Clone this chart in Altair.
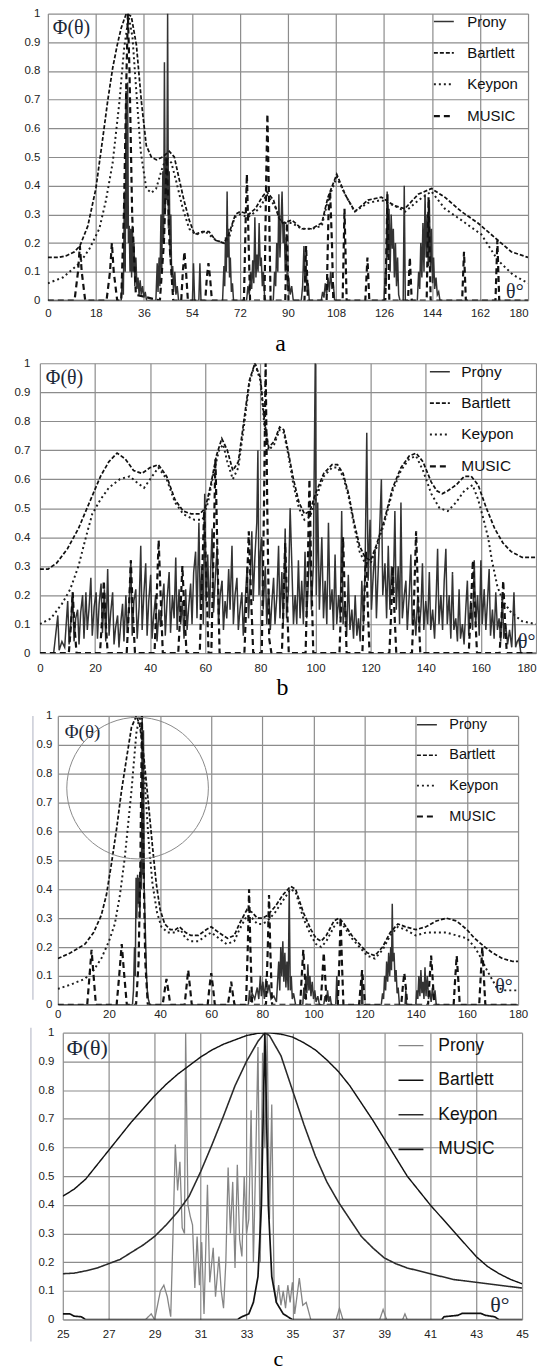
import altair as alt
import pandas as pd

SERIES = ["Prony", "Bartlett", "Keypon", "MUSIC"]

# ---------------- panel a (theta 0..180) ----------------
A_PRONY = [(0, 0), (27.5, 0), (28, 0.09), (28.3, 0.02), (28.7, 0.38), (29, 0.1), (29.3, 0.73), (29.6, 0.25),
           (29.9, 0.76), (30.2, 0.2), (30.5, 0.26), (30.8, 0.1), (31.1, 0.25), (31.4, 0.08), (31.7, 0.26),
           (32, 0.1), (32.3, 0.2), (32.6, 0.05), (33, 0.15), (33.4, 0.04), (33.8, 0.08), (34.2, 0.02),
           (34.6, 0.07), (35, 0.02), (35.5, 0.05), (36, 0.01), (36.5, 0.03), (37, 0),
           (40.5, 0), (41, 0.13), (41.3, 0.03), (41.7, 0.15), (42, 0.05), (42.4, 0.3), (42.7, 0.1),
           (43.1, 0.45), (43.4, 0.2), (43.7, 0.83), (44, 0.3), (44.3, 0.5), (44.6, 0.35), (44.9, 1.0),
           (45.2, 0.25), (45.5, 0.45), (45.8, 0.15), (46.1, 0.3), (46.4, 0.08), (46.8, 0.12), (47.1, 0.03),
           (47.6, 0.1), (48, 0.02), (48.5, 0.05), (49, 0),
           (54.2, 0), (54.6, 0.13), (55, 0), (56.6, 0), (57, 0.13), (57.4, 0),
           (65.5, 0), (66, 0.12), (66.3, 0.05), (66.6, 0.22), (66.9, 0.1), (67.2, 0.38), (67.5, 0.15),
           (67.8, 0.25), (68.1, 0.08), (68.4, 0.15), (68.8, 0.03), (69.2, 0.06), (69.6, 0),
           (74.5, 0), (75, 0.05), (75.5, 0.02), (76, 0.1), (76.4, 0.04), (76.8, 0.14), (77.2, 0.06),
           (77.6, 0.29), (78, 0.08), (78.4, 0.16), (78.8, 0.1), (79.2, 0.27), (79.6, 0.12), (80, 0.15),
           (80.4, 0.05), (80.8, 0.1), (81.2, 0.02), (81.6, 0),
           (84.5, 0), (85, 0.1), (85.4, 0.05), (85.8, 0.2), (86.2, 0.1), (86.6, 0.37), (87, 0.15),
           (87.4, 0.27), (87.8, 0.38), (88.2, 0.2), (88.6, 0.27), (89, 0.1), (89.4, 0.22), (89.8, 0.05),
           (90.3, 0.08), (90.8, 0.02), (91.4, 0.05), (92, 0),
           (95, 0), (95.5, 0.05), (96, 0.19), (96.4, 0.06), (96.8, 0.12), (97.2, 0.03), (97.6, 0.06), (98, 0),
           (102.5, 0), (103, 0.03), (103.5, 0.01), (104, 0.06), (104.5, 0.02), (105, 0.08), (105.5, 0.03),
           (106, 0.1), (106.5, 0.04), (107, 0.06), (107.5, 0),
           (126, 0), (126.5, 0.1), (126.8, 0.05), (127.2, 0.38), (127.5, 0.15), (127.9, 0.32), (128.3, 0.1),
           (128.7, 0.3), (129.1, 0.18), (129.5, 0.25), (129.9, 0.08), (130.3, 0.2), (130.7, 0.05),
           (131.1, 0.15), (131.5, 0.02), (132, 0), (133.2, 0), (133.6, 0.4), (134, 0),
           (138.5, 0), (139, 0.1), (139.4, 0.04), (139.8, 0.2), (140.2, 0.08), (140.6, 0.27), (141, 0.1),
           (141.4, 0.37), (141.8, 0.15), (142.2, 0.3), (142.6, 0.12), (143, 0.35), (143.4, 0.1),
           (143.8, 0.25), (144.2, 0.06), (144.6, 0.15), (145, 0.04), (145.5, 0.08), (146, 0.02),
           (146.5, 0.03), (147, 0), (180, 0)]
A_BARTLETT = [(0, 0.15), (4, 0.15), (7, 0.156), (10, 0.17), (12, 0.19), (15, 0.26), (18, 0.39), (20.5, 0.56),
              (22.5, 0.7), (24.3, 0.81), (26, 0.89), (27.5, 0.95), (29.4, 1.0), (31.3, 0.99), (33.2, 0.89),
              (35.1, 0.69), (36.9, 0.54), (38.8, 0.5), (40.7, 0.49), (43, 0.5), (45.5, 0.52), (47.4, 0.5),
              (49.3, 0.42), (51, 0.35), (53, 0.28), (55, 0.23), (58, 0.24), (60.4, 0.24), (62.9, 0.21),
              (66, 0.2), (67.8, 0.23), (70.3, 0.3), (72.2, 0.31), (75.3, 0.3), (77.8, 0.32), (80.3, 0.36),
              (82, 0.38), (84.6, 0.35), (86.5, 0.29), (88, 0.27), (91.5, 0.28), (95.2, 0.25), (98.9, 0.25),
              (102.7, 0.27), (105, 0.36), (108.3, 0.44), (111.4, 0.37), (115.1, 0.31), (120, 0.35),
              (125, 0.36), (130, 0.33), (133.8, 0.32), (138.8, 0.37), (143.8, 0.39), (148.8, 0.36),
              (155, 0.31), (161.2, 0.27), (168.7, 0.21), (173.7, 0.17), (180, 0.15)]
A_KEYPON = [(0, 0.06), (5.6, 0.08), (11.9, 0.13), (15.6, 0.18), (19.3, 0.25), (21.8, 0.35), (24.3, 0.48),
            (26.8, 0.69), (28.6, 0.88), (30.3, 0.99), (31.7, 0.92), (33, 0.75), (34.8, 0.52), (36.9, 0.39),
            (38.8, 0.375), (40.6, 0.39), (42.5, 0.45), (44.4, 0.5), (46.3, 0.48), (48, 0.42), (50.6, 0.32),
            (53, 0.25), (55.5, 0.23), (59, 0.24), (63, 0.21), (66, 0.2), (68, 0.22), (70, 0.29), (72, 0.3),
            (75, 0.29), (78, 0.31), (80, 0.33), (82, 0.37), (85, 0.33), (88, 0.27), (91.5, 0.27),
            (95, 0.25), (99, 0.25), (102.7, 0.26), (105, 0.35), (108.3, 0.43), (111.4, 0.37), (115, 0.31),
            (120, 0.34), (125, 0.35), (130, 0.33), (134, 0.31), (139, 0.35), (143.8, 0.38), (148.8, 0.32),
            (155, 0.28), (162.5, 0.23), (168.7, 0.14), (174.3, 0.09), (180, 0.06)]
A_MUSIC = [(0, 0), (10, 0), (11.3, 0.1), (12, 0.19), (12.7, 0.1), (14, 0), (22, 0), (23.3, 0.1), (24, 0.2),
           (24.7, 0.1), (26, 0), (27.5, 0), (28.5, 0.3), (29.5, 0.8), (30, 1.0), (30.6, 0.8), (31.6, 0.3),
           (33, 0.02), (42, 0), (43.5, 0.2), (44.6, 0.5), (45.6, 0.2), (47, 0), (50, 0), (50.6, 0.1),
           (51.2, 0.17), (51.8, 0.1), (52.5, 0), (59, 0), (59.6, 0.08), (60.2, 0.13), (60.8, 0.08),
           (61.5, 0), (73.5, 0), (74.2, 0.3), (74.6, 0.44), (75, 0.3), (75.8, 0), (81.2, 0), (81.8, 0.4),
           (82.3, 0.65), (82.8, 0.4), (83.5, 0), (89, 0), (89.6, 0.27), (90.2, 0), (96.2, 0), (96.8, 0.19),
           (97.5, 0), (104.5, 0), (105.2, 0.3), (105.8, 0.38), (106.5, 0.2), (107, 0), (110.5, 0),
           (111.2, 0.32), (112, 0), (119, 0), (119.8, 0.15), (120.5, 0), (126.5, 0), (127.3, 0.37),
           (128, 0), (135, 0), (135.7, 0.15), (136.4, 0), (142, 0), (142.7, 0.36), (143.5, 0),
           (155.3, 0), (156, 0.17), (156.7, 0), (167.8, 0), (168.5, 0.21), (169.2, 0), (180, 0)]

# ---------------- panel b (theta 0..180) ----------------
B_PRONY = [(5, 0), (6.5, 0.13), (7, 0.01), (8, 0.04), (9, 0.02), (10.1, 0.18), (10.6, 0.03), (11.2, 0.1),
           (11.9, 0.21), (12.4, 0.04), (13, 0.12), (13.7, 0.15), (14.2, 0.03), (14.8, 0.14), (15.5, 0.2),
           (16, 0.05), (16.7, 0.21), (17.2, 0.08), (17.8, 0.15), (18.5, 0.26), (19, 0.06), (19.7, 0.16),
           (20.4, 0.21), (20.9, 0.05), (21.5, 0.17), (22.2, 0.24), (22.7, 0.07), (23.4, 0.22), (23.9, 0.04),
           (24.6, 0.29), (25.1, 0.06), (25.7, 0.14), (26.4, 0.21), (26.9, 0.03), (27.5, 0.09), (28.2, 0.13),
           (28.7, 0.02), (29.4, 0.11), (30, 0.17), (30.5, 0.04), (31.2, 0.2), (31.7, 0.07), (32.3, 0.15),
           (33, 0.32), (33.5, 0.06), (34.1, 0.18), (34.8, 0.22), (35.3, 0.05), (36, 0.16), (36.6, 0.37),
           (37.1, 0.08), (37.7, 0.2), (38.4, 0.31), (38.9, 0.06), (39.5, 0.18), (40.2, 0.27), (40.7, 0.05),
           (41.3, 0.13), (42, 0.2), (42.5, 0.04), (43.2, 0.15), (43.8, 0.09), (44.4, 0.18), (45, 0.24),
           (45.5, 0.06), (46.2, 0.19), (46.9, 0.28), (47.4, 0.07), (48.1, 0.2), (48.7, 0.12), (49.3, 0.33),
           (49.8, 0.08), (50.5, 0.22), (51.1, 0.1), (51.7, 0.18), (52.3, 0.05), (52.9, 0.22), (53.4, 0.08),
           (54, 0.16), (54.7, 0.24), (55.2, 0.1), (55.8, 0.28), (56.5, 0.35), (57, 0.12), (57.7, 0.45),
           (58.2, 0.15), (58.8, 0.3), (59.3, 0.1), (59.8, 0.55), (60.3, 0.18), (60.9, 0.34), (61.5, 0.12),
           (62, 0.3), (62.5, 0.43), (63, 0.14), (63.6, 0.25), (64.3, 0.37), (64.8, 0.1), (65.4, 0.2),
           (66.1, 0.25), (66.6, 0.08), (67.2, 0.18), (67.8, 0.12), (68.5, 0.29), (69, 0.15), (69.7, 0.37),
           (70.2, 0.1), (70.8, 0.2), (71.5, 0.26), (72, 0.08), (72.6, 0.15), (73.3, 0.21), (73.8, 0.06),
           (74.5, 0.18), (75.2, 0.3), (75.7, 0.12), (76.3, 0.25), (76.9, 0.42), (77.4, 0.18), (78, 0.33),
           (78.7, 0.45), (79.1, 0.7), (79.5, 0.2), (80, 0.35), (80.5, 0.4), (81, 0.15), (81.8, 0.3),
           (82.3, 0.1), (83, 0.22), (83.6, 0.08), (84.2, 0.18), (84.8, 0.26), (85.3, 0.1), (86, 0.2),
           (86.6, 0.37), (87.1, 0.12), (87.8, 0.28), (88.3, 0.1), (89, 0.43), (89.5, 0.12), (90.2, 0.22),
           (90.8, 0.5), (91.4, 0.31), (92, 0.1), (92.6, 0.2), (93.2, 0.1), (93.8, 0.32), (94.4, 0.12),
           (95, 0.25), (95.6, 0.1), (96.2, 0.35), (96.8, 0.12), (97.4, 0.25), (98, 0.41), (98.5, 0.15),
           (99.2, 0.3), (99.9, 1.0), (100.3, 0.2), (100.8, 0.52), (101.4, 0.15), (102.3, 0.4), (102.9, 0.12),
           (103.5, 0.25), (104.1, 0.1), (104.7, 0.45), (105.3, 0.15), (106, 0.22), (106.5, 0.08),
           (107.1, 0.34), (107.7, 0.1), (108.4, 0.2), (109, 0.12), (109.5, 0.49), (110, 0.1), (110.7, 0.18),
           (111.3, 0.06), (111.9, 0.27), (112.5, 0.08), (113.2, 0.15), (113.8, 0.05), (114.4, 0.2),
           (115, 0.06), (115.6, 0.12), (116.2, 0.04), (116.8, 0.25), (117.4, 0.1), (118, 0.3), (118.6, 0.76),
           (119.1, 0.25), (119.8, 0.46), (120.3, 0.15), (121, 0.28), (121.6, 0.36), (122.1, 0.12),
           (122.8, 0.3), (123.4, 0.46), (123.9, 0.6), (124.4, 0.2), (125.2, 0.31), (125.8, 0.12),
           (126.4, 0.37), (127, 0.15), (127.6, 0.3), (128.2, 0.2), (128.8, 0.49), (129.3, 0.15), (130, 0.3),
           (130.5, 0.1), (131, 0.52), (131.5, 0.12), (132.2, 0.2), (132.8, 0.25), (133.3, 0.08), (134, 0.2),
           (134.6, 0.34), (135.1, 0.1), (135.8, 0.15), (136.4, 0.06), (137.1, 0.2), (137.7, 0.08),
           (138.3, 0.16), (138.8, 0.31), (139.3, 0.08), (140, 0.18), (140.7, 0.1), (141.3, 0.28),
           (141.8, 0.08), (142.5, 0.15), (143.2, 0.05), (143.8, 0.2), (144.3, 0.36), (144.8, 0.1),
           (145.5, 0.2), (146.1, 0.08), (146.7, 0.25), (147.3, 0.36), (147.8, 0.1), (148.5, 0.2),
           (149.1, 0.05), (149.7, 0.28), (150.2, 0.08), (150.9, 0.12), (151.5, 0.04), (152.1, 0.22),
           (152.6, 0.05), (153.3, 0.1), (153.9, 0.03), (154.5, 0.15), (155.1, 0.25), (155.6, 0.06),
           (156.3, 0.18), (157, 0.08), (157.6, 0.32), (158.1, 0.1), (158.8, 0.2), (159.4, 0.06), (160, 0.32),
           (160.5, 0.1), (161.2, 0.22), (161.8, 0.08), (162.4, 0.18), (163, 0.29), (163.5, 0.06),
           (164.2, 0.15), (164.8, 0.05), (165.4, 0.21), (166, 0.08), (166.6, 0.12), (167.2, 0.04),
           (167.8, 0.2), (168.3, 0.05), (169, 0.1), (169.7, 0.03), (170.4, 0.08), (171.2, 0.02), (172, 0.21),
           (172.6, 0.02), (173.2, 0.04), (173.8, 0.05), (174.5, 0), (180, 0)]
B_BARTLETT = [(0, 0.29), (3, 0.29), (6, 0.31), (10, 0.36), (14, 0.43), (18, 0.52), (22, 0.61), (25, 0.66),
              (28, 0.69), (31, 0.67), (34, 0.63), (37, 0.62), (40, 0.64), (43, 0.65), (46, 0.61), (49, 0.53),
              (52, 0.49), (55, 0.48), (58, 0.48), (60, 0.5), (62, 0.58), (64, 0.68), (66, 0.74), (68, 0.7),
              (70, 0.63), (72, 0.66), (74, 0.8), (76, 0.94), (78, 1.0), (80, 0.95), (81.5, 0.8), (83, 0.71),
              (85, 0.73), (87, 0.78), (88.5, 0.77), (90, 0.7), (92, 0.6), (94, 0.52), (96, 0.48), (98, 0.49),
              (100, 0.55), (103, 0.62), (106, 0.65), (108, 0.65), (110, 0.62), (112, 0.55), (114, 0.45),
              (116, 0.37), (118, 0.33), (120, 0.32), (122, 0.37), (125, 0.46), (128, 0.57), (131, 0.64),
              (134, 0.68), (136.5, 0.69), (139, 0.66), (142, 0.59), (144, 0.56), (146, 0.55), (148, 0.56),
              (151, 0.58), (154, 0.61), (156.5, 0.61), (159, 0.58), (162, 0.5), (165, 0.43), (168, 0.38),
              (171, 0.35), (175, 0.33), (180, 0.33)]
B_KEYPON = [(0, 0.1), (4, 0.12), (8, 0.17), (11, 0.22), (14, 0.3), (16.7, 0.4), (19, 0.48), (22, 0.53),
            (25, 0.57), (29, 0.6), (32.6, 0.61), (35, 0.59), (37.8, 0.57), (40, 0.6), (43, 0.64), (46, 0.6),
            (49, 0.52), (52, 0.48), (56, 0.46), (59, 0.46), (61, 0.52), (63, 0.62), (65, 0.7), (66.5, 0.72),
            (68, 0.66), (70, 0.6), (72, 0.64), (74, 0.78), (76, 0.93), (78, 1.0), (80, 0.94), (81.5, 0.78),
            (83, 0.7), (85, 0.72), (87, 0.77), (88.5, 0.76), (90, 0.69), (92, 0.58), (94, 0.5), (96, 0.46),
            (98, 0.47), (100, 0.53), (103, 0.61), (106, 0.64), (108, 0.64), (110, 0.61), (112, 0.54),
            (114, 0.44), (116, 0.35), (118, 0.31), (120, 0.31), (122, 0.36), (125, 0.45), (128, 0.56),
            (131, 0.63), (134, 0.67), (136.5, 0.68), (139, 0.63), (142, 0.55), (145, 0.5), (148, 0.49),
            (151, 0.52), (154, 0.56), (157, 0.58), (159, 0.53), (161, 0.46), (162.6, 0.4), (164, 0.32),
            (166, 0.23), (168, 0.18), (171, 0.14), (175, 0.11), (180, 0.1)]
B_MUSIC = [(0, 0), (10.5, 0), (11.3, 0.1), (11.9, 0.21), (12.5, 0.1), (13.3, 0), (21.8, 0), (22.6, 0.12),
           (23.2, 0.25), (23.8, 0.12), (24.6, 0), (31.5, 0), (32.3, 0.15), (33, 0.32), (33.7, 0.15),
           (34.5, 0), (41.6, 0), (42.4, 0.2), (43.1, 0.39), (43.8, 0.2), (44.6, 0), (50.2, 0), (51, 0.15),
           (51.7, 0.3), (52.4, 0.15), (53.2, 0), (58, 0), (58.8, 0.25), (59.6, 0.49), (60.4, 0.25),
           (61.2, 0), (62.2, 0), (63, 0.35), (63.7, 0.67), (64.4, 0.35), (65.2, 0), (74.2, 0), (75, 0.2),
           (75.8, 0.42), (76.6, 0.2), (77.4, 0), (80.5, 0), (81.3, 0.5), (81.9, 1.0), (82.5, 0.5),
           (83.2, 0.05), (84, 0), (87.8, 0), (88.5, 0.2), (89, 0.38), (89.6, 0.2), (90.3, 0), (96.4, 0),
           (97.2, 0.3), (97.8, 0.6), (98.4, 0.3), (99.2, 0), (108.7, 0), (109.4, 0.2), (110, 0.4),
           (110.6, 0.2), (111.3, 0), (117, 0), (117.7, 0.18), (118.3, 0.35), (118.9, 0.18), (119.6, 0),
           (126.8, 0), (127.5, 0.15), (128, 0.3), (128.6, 0.15), (129.3, 0), (135, 0), (135.8, 0.2),
           (136.5, 0.42), (137.2, 0.2), (138, 0), (155.6, 0), (156.4, 0.16), (157.1, 0.32), (157.8, 0.16),
           (158.6, 0), (166.8, 0), (167.5, 0.12), (168.1, 0.25), (168.7, 0.12), (169.4, 0), (180, 0)]

# ---------------- panel c (theta 0..180) ----------------
C_PRONY = [(0, 0), (29.2, 0), (29.6, 0.05), (30, 0.2), (30.3, 0.1), (30.6, 0.44), (30.9, 0.3), (31.2, 0.45),
           (31.5, 0.35), (31.8, 0.44), (32.1, 0.3), (32.4, 0.5), (32.7, 0.4), (33, 1.0), (33.2, 0.45),
           (33.5, 0.95), (33.8, 0.4), (34.1, 0.3), (34.4, 0.2), (34.7, 0.1), (35, 0.05), (35.4, 0.02),
           (36, 0), (74.5, 0), (75, 0.05), (75.4, 0.01), (76, 0.04), (77, 0.02), (78, 0.06), (78.6, 0.02),
           (79.2, 0.1), (79.6, 0.03), (80.2, 0.08), (80.8, 0.02), (81.4, 0.09), (82, 0.04), (82.6, 0.07),
           (83.4, 0.02), (84.5, 0.03), (85.5, 0.01), (86.4, 0.15), (86.8, 0.05), (87.2, 0.2), (87.6, 0.1),
           (88, 0.22), (88.4, 0.08), (88.8, 0.18), (89.2, 0.06), (89.6, 0.15), (90.1, 0.05), (90.5, 0.4),
           (90.9, 0.05), (91.3, 0.1), (91.7, 0.02), (92.2, 0.04), (93, 0), (95.8, 0), (96.2, 0.06),
           (96.6, 0.02), (97, 0.1), (97.4, 0.04), (97.8, 0.14), (98.2, 0.05), (98.6, 0.1), (99, 0.03),
           (99.5, 0.08), (100, 0.02), (100.5, 0.05), (101, 0.01), (101.7, 0.03), (102.3, 0), (104, 0),
           (104.5, 0.03), (105, 0.01), (105.5, 0.05), (106, 0.01), (106.5, 0.03), (107, 0), (108.7, 0),
           (109.1, 0.1), (109.5, 0), (118.7, 0), (119, 0.11), (119.3, 0), (126.5, 0), (127, 0.04),
           (127.4, 0.02), (127.8, 0.1), (128.2, 0.05), (128.6, 0.15), (129, 0.08), (129.4, 0.18),
           (129.8, 0.1), (130.2, 0.2), (130.5, 0.12), (130.8, 0.35), (131.1, 0.15), (131.5, 0.18),
           (131.9, 0.08), (132.3, 0.12), (132.7, 0.04), (133.1, 0.06), (133.6, 0), (135.8, 0), (136.1, 0.05),
           (136.4, 0), (140, 0), (140.4, 0.05), (140.8, 0.02), (141.2, 0.1), (141.6, 0.03), (142, 0.12),
           (142.4, 0.04), (142.8, 0.08), (143.2, 0.02), (143.6, 0.13), (144, 0.03), (144.5, 0.1),
           (145, 0.02), (145.5, 0.05), (146, 0.01), (146.5, 0.06), (147, 0.02), (147.5, 0.05), (148, 0),
           (180, 0)]
C_BARTLETT = [(0, 0.16), (5, 0.18), (10.6, 0.21), (14, 0.25), (17, 0.31), (19, 0.38), (21, 0.49), (23, 0.61),
              (24.9, 0.74), (27, 0.86), (28.8, 0.96), (30.7, 1.0), (32, 0.97), (33.5, 0.87), (35.3, 0.71),
              (37, 0.55), (38.5, 0.42), (40, 0.33), (41.8, 0.28), (44, 0.26), (46, 0.26), (47.6, 0.27),
              (50, 0.25), (52, 0.24), (55, 0.24), (58, 0.26), (60, 0.27), (63, 0.25), (66.4, 0.23),
              (69, 0.24), (71, 0.28), (74, 0.33), (76, 0.32), (78, 0.3), (80, 0.3), (82, 0.31), (85, 0.34),
              (88, 0.38), (91, 0.41), (93, 0.4), (96, 0.32), (99, 0.26), (101, 0.23), (103, 0.22), (105, 0.24),
              (108, 0.29), (110, 0.3), (112, 0.28), (115, 0.24), (118, 0.21), (121, 0.18), (124, 0.17),
              (127, 0.2), (130, 0.25), (133, 0.28), (136, 0.27), (140, 0.26), (144, 0.27), (148, 0.29),
              (152, 0.3), (156, 0.29), (160, 0.26), (163, 0.23), (167, 0.2), (170, 0.18), (174, 0.16),
              (178, 0.15), (180, 0.15)]
C_KEYPON = [(0, 0.055), (5, 0.07), (10.6, 0.09), (14, 0.12), (17, 0.16), (20, 0.22), (22.3, 0.28),
            (24.3, 0.38), (26.2, 0.51), (28.8, 0.74), (30.7, 0.94), (32, 1.0), (33, 0.92), (34, 0.77),
            (35.5, 0.57), (37, 0.42), (38.8, 0.32), (40.5, 0.27), (43, 0.25), (46, 0.25), (48, 0.26),
            (50, 0.23), (52, 0.22), (55, 0.22), (58, 0.24), (60, 0.25), (63, 0.23), (66, 0.21), (69, 0.22),
            (71, 0.26), (74, 0.31), (76, 0.3), (78, 0.28), (80, 0.28), (82, 0.29), (85, 0.32), (88, 0.36),
            (91, 0.4), (93, 0.39), (96, 0.3), (99, 0.24), (101, 0.21), (103, 0.2), (105, 0.22), (108, 0.27),
            (110, 0.29), (112, 0.27), (115, 0.23), (118, 0.2), (121, 0.17), (124, 0.16), (127, 0.19),
            (130, 0.24), (133, 0.27), (136, 0.26), (140, 0.24), (144, 0.25), (148, 0.25), (152, 0.25),
            (156, 0.24), (160, 0.23), (163, 0.2), (165, 0.17), (167.8, 0.12), (171.6, 0.06), (175, 0.05),
            (180, 0.05)]
C_MUSIC = [(0, 0), (11.5, 0), (12.4, 0.1), (13.2, 0.19), (14, 0.1), (14.9, 0), (23, 0), (24, 0.1),
           (25, 0.21), (26, 0.1), (27, 0), (30.6, 0), (31.6, 0.15), (32.3, 0.5), (32.9, 1.0), (33.5, 0.5),
           (34.2, 0.15), (35.2, 0), (41, 0), (41.8, 0.05), (42.5, 0.09), (43.2, 0.05), (44, 0), (49.6, 0),
           (50.3, 0.06), (51, 0.12), (51.7, 0.06), (52.4, 0), (58.6, 0), (59.3, 0.06), (60, 0.11),
           (60.7, 0.06), (61.4, 0), (66.5, 0), (67.2, 0.04), (67.8, 0.08), (68.4, 0.04), (69.1, 0),
           (73.6, 0), (74.3, 0.2), (74.8, 0.4), (75.3, 0.2), (76, 0), (81.4, 0), (82.1, 0.19), (82.6, 0.38),
           (83.1, 0.19), (83.8, 0), (94.8, 0), (95.4, 0.1), (96, 0.19), (96.6, 0.1), (97.2, 0), (102.8, 0),
           (103.4, 0.09), (104, 0.18), (104.6, 0.09), (105.2, 0), (109.5, 0), (110.1, 0.15), (110.6, 0.3),
           (111.1, 0.15), (111.7, 0), (117.8, 0), (118.4, 0.06), (119, 0.12), (119.6, 0.06), (120.2, 0),
           (134.3, 0), (134.9, 0.06), (135.5, 0.11), (136.1, 0.06), (136.7, 0), (144.8, 0), (145.4, 0.09),
           (146, 0.17), (146.6, 0.09), (147.2, 0), (154.8, 0), (155.4, 0.09), (156, 0.17), (156.6, 0.09),
           (157.2, 0), (164.8, 0), (165.4, 0.1), (166, 0.2), (166.6, 0.1), (167.2, 0), (180, 0)]
C_CIRCLE = [(31.2, 0.75)]

# ---------------- panel c zoom (theta 25..45) ----------------
D_PRONY = [(25, 0), (28.6, 0), (28.85, 0.02), (29.0, 0), (29.25, 0.1), (29.4, 0.12), (29.55, 0.08),
           (29.7, 0.01), (29.8, 0.3), (29.9, 0.61), (30.0, 0.45), (30.1, 0.55), (30.2, 0.32), (30.3, 0.3),
           (30.35, 1.0), (30.45, 0.4), (30.55, 0.36), (30.65, 0.33), (30.75, 0.11), (30.85, 0.29),
           (30.95, 0.12), (31.05, 0.27), (31.15, 0.02), (31.3, 0.47), (31.4, 0.13), (31.55, 0.25),
           (31.65, 0.08), (31.8, 0.22), (31.9, 0.1), (32.0, 0.04), (32.1, 0.2), (32.2, 0.53), (32.3, 0.3),
           (32.4, 0.48), (32.5, 0.18), (32.6, 0.54), (32.7, 0.28), (32.8, 0.22), (32.9, 0.5), (33.0, 0.3),
           (33.1, 0.35), (33.2, 0.73), (33.3, 0.2), (33.4, 0.55), (33.5, 0.95), (33.6, 0.2), (33.7, 0.93),
           (33.8, 0.6), (33.9, 1.0), (34.0, 0.35), (34.1, 0.75), (34.2, 0.12), (34.3, 0.06), (34.4, 0.12),
           (34.5, 0.05), (34.6, 0.1), (34.7, 0.04), (34.8, 0.12), (34.9, 0.06), (35.0, 0.13), (35.1, 0.02),
           (35.3, 0.145), (35.45, 0.05), (35.6, 0.06), (35.8, 0), (36.9, 0), (37.05, 0.04), (37.2, 0),
           (38.8, 0), (38.95, 0.035), (39.1, 0), (39.8, 0), (39.9, 0.02), (40.0, 0), (45, 0)]
D_BARTLETT = [(25, 0.43), (25.5, 0.455), (26, 0.49), (26.5, 0.54), (27, 0.59), (27.5, 0.64), (28, 0.69),
              (28.5, 0.735), (29, 0.78), (29.5, 0.82), (30, 0.855), (30.5, 0.885), (31, 0.915), (31.5, 0.94),
              (32, 0.96), (32.5, 0.975), (33, 0.99), (33.5, 0.998), (34, 1.0), (34.5, 0.995), (35, 0.985),
              (35.5, 0.965), (36, 0.94), (36.5, 0.905), (37, 0.865), (37.5, 0.815), (38, 0.755),
              (38.5, 0.695), (39, 0.63), (39.5, 0.565), (40, 0.5), (40.5, 0.45), (41, 0.4), (41.5, 0.355),
              (42, 0.31), (42.5, 0.265), (43, 0.22), (43.5, 0.185), (44, 0.16), (44.5, 0.14), (45, 0.125)]
D_KEYPON = [(25, 0.16), (25.5, 0.162), (26, 0.17), (26.5, 0.18), (27, 0.195), (27.5, 0.21), (28, 0.235),
            (28.5, 0.26), (29, 0.29), (29.5, 0.33), (30, 0.375), (30.5, 0.43), (31, 0.515), (31.5, 0.61),
            (32, 0.71), (32.5, 0.815), (33, 0.9), (33.5, 0.97), (33.8, 1.0), (34, 0.99), (34.5, 0.92),
            (35, 0.8), (35.5, 0.68), (36, 0.57), (36.5, 0.48), (37, 0.41), (37.5, 0.35), (38, 0.29),
            (38.5, 0.25), (39, 0.215), (39.5, 0.195), (40, 0.18), (40.5, 0.17), (41, 0.16), (41.5, 0.15),
            (42, 0.14), (42.5, 0.135), (43, 0.13), (43.5, 0.125), (44, 0.12), (44.5, 0.115), (45, 0.11)]
D_MUSIC = [(25, 0.02), (25.3, 0.02), (25.5, 0.012), (25.8, 0.01), (26, 0), (32.6, 0), (32.8, 0.01),
           (33.1, 0.02), (33.3, 0.06), (33.5, 0.15), (33.65, 0.4), (33.8, 1.0), (33.95, 0.4), (34.1, 0.15),
           (34.3, 0.06), (34.6, 0.02), (35, 0), (41.5, 0), (41.6, 0.01), (42.2, 0.015), (42.4, 0.022),
           (43.2, 0.022), (43.4, 0.015), (43.8, 0.01), (44, 0), (45, 0)]

X_TICKS_A = [0, 18, 36, 54, 72, 90, 108, 126, 144, 162, 180]
X_TICKS_BC = [0, 20, 40, 60, 80, 100, 120, 140, 160, 180]
X_TICKS_D = [25, 27, 29, 31, 33, 35, 37, 39, 41, 43, 45]
Y_TICKS = [0, 0.1, 0.2, 0.3, 0.4, 0.5, 0.6, 0.7, 0.8, 0.9, 1]

SANS = "Liberation Sans"
SERIF = "Liberation Serif"
EXT = 28
INDEP = dict(color="independent", strokeDash="independent", strokeWidth="independent",
             x="independent", y="independent")
LAST_RIGHT = {"condition": {"test": "datum.value >= 180", "value": "right"}, "value": "center"}


def long_df(parts):
    rows = []
    for name, pts in parts:
        for i, (t, v) in enumerate(pts):
            rows.append({"series": name, "theta": t, "phi": v, "i": i})
    return pd.DataFrame(rows)


def panel(parts, xdom, xticks, w, h, style, leg, xlabpad, ylabpad, phi, thetalab,
          caption=None, circle=None, flush_last=False, edge=None):
    colors, dashes, widths = style
    lx, ly, lsize, lfont, lrow, loff = leg
    df = long_df(parts)
    xaxis_kw = dict(values=xticks, format="d", labelPadding=xlabpad, labelFlush=False,
                    labelOverlap=False, grid=True)
    if flush_last:
        xaxis_kw["labelAlign"] = LAST_RIGHT
    if caption is not None:
        cap, cx, cy, cfs = caption
        xaxis_kw.update(titleX=cx, titleY=cy, titleFont=SERIF, titleFontSize=cfs,
                        titleFontWeight="normal", titleColor="#000", titleBaseline="middle",
                        titleAlign="center", titleAnchor="start")
    xscale = alt.Scale(domain=xdom, nice=False, zero=False)
    yscale = alt.Scale(domain=[0, 1], nice=False)
    xaxis = alt.Axis(**xaxis_kw)
    yaxis = alt.Axis(values=Y_TICKS, format=".1~f", labelPadding=ylabpad, labelFlush=False,
                     labelOverlap=False, grid=True, minExtent=EXT)
    xtitle = caption[0] if caption is not None else None
    x = alt.X("theta:Q", scale=xscale, axis=xaxis, title=xtitle)
    y = alt.Y("phi:Q", scale=yscale, axis=yaxis, title=None)
    legend = alt.Legend(orient="none", legendX=lx, legendY=ly, title=None, symbolType="stroke",
                        symbolSize=lsize, labelFont=SANS, labelFontSize=lfont, labelColor="#111",
                        rowPadding=lrow, labelOffset=loff, padding=0, labelLimit=0)
    lines = alt.Chart(df).mark_line(clip=True).encode(
        x=x, y=y,
        color=alt.Color("series:N", scale=alt.Scale(domain=SERIES, range=colors), legend=legend),
        strokeDash=alt.StrokeDash("series:N", scale=alt.Scale(domain=SERIES, range=dashes), legend=legend),
        strokeWidth=alt.StrokeWidth("series:N", scale=alt.Scale(domain=SERIES, range=widths), legend=legend),
        order=alt.Order("i:Q"),
    )
    layers = [lines]
    px, py, pfs = phi
    layers.append(alt.Chart(pd.DataFrame({"t": ["Φ(θ)"]})).mark_text(
        font=SERIF, fontSize=pfs, align="left", baseline="middle", color="#1c2838").encode(
        text="t:N", x=alt.value(px), y=alt.value(py)))
    tx, ty, tfs = thetalab
    layers.append(alt.Chart(pd.DataFrame({"t": ["θ°"]})).mark_text(
        font=SERIF, fontSize=tfs, align="left", baseline="middle", color="#1c2838").encode(
        text="t:N", x=alt.value(tx), y=alt.value(ty)))
    if circle is not None:
        cdf = pd.DataFrame({"theta": [c[0] for c in circle], "phi": [c[1] for c in circle]})
        layers.append(alt.Chart(cdf).mark_point(shape="circle", size=20200, filled=False,
                                                color="#8a8a8a", strokeWidth=1, opacity=1).encode(
            x=x, y=y))
    if edge is not None:
        ex, ey1, ey2 = edge
        layers.append(alt.Chart(pd.DataFrame({"z": [0]})).mark_rule(
            color="#c9cbd6", strokeWidth=1.5).encode(
            x=alt.value(ex), y=alt.value(ey1), y2=alt.value(ey2)))
    return alt.layer(*layers).properties(width=w, height=h)


def spacer(w, h):
    return alt.Chart(pd.DataFrame({"z": [0]})).mark_rule(strokeWidth=0, opacity=0).encode(
        x=alt.value(1), y=alt.value(1), y2=alt.value(1)).properties(width=w, height=h)


def row(w, h, p):
    return alt.hconcat(spacer(w, h), p, spacing=0).resolve_scale(**INDEP).resolve_legend(
        color="independent", strokeDash="independent", strokeWidth="independent")


STYLE_ABC = (["#333333", "#111111", "#1e1e1e", "#111111"],
             [[1, 0], [4, 2], [2, 3], [6, 4]],
             [1.5, 2.2, 2.2, 2.2])
STYLE_D = (["#858585", "#111111", "#2a2a2a", "#111111"],
           [[1, 0], [1, 0], [1, 0], [1, 0]],
           [1.3, 1.7, 1.7, 1.7])

pa = panel([("Prony", A_PRONY), ("Bartlett", A_BARTLETT), ("Keypon", A_KEYPON), ("MUSIC", A_MUSIC)],
           [0, 180], X_TICKS_A, 482, 288, STYLE_ABC, (386, -3, 400, 15, 12.5, 12), 7, 8,
           (5, 15, 20), (460, 280, 20), caption=("a", 233, 43, 24), flush_last=True)
pb = panel([("Prony", B_PRONY), ("Bartlett", B_BARTLETT), ("Keypon", B_KEYPON), ("MUSIC", B_MUSIC)],
           [0, 180], X_TICKS_BC, 498, 291, STYLE_ABC, (390, -2.5, 400, 15.5, 11.5, 10), 9, 10,
           (6, 15, 20), (480, 280, 20), caption=("b", 243, 35, 24), flush_last=True)
pc = panel([("Prony", C_PRONY), ("Bartlett", C_BARTLETT), ("Keypon", C_KEYPON), ("MUSIC", C_MUSIC)],
           [0, 180], X_TICKS_BC, 462, 290, STYLE_ABC, (359, -2, 400, 14.5, 12.5, 11), 4, 6,
           (7, 16, 19), (439, 272, 20), circle=C_CIRCLE, edge=(-25, 0, 285))
pd_ = panel([("Prony", D_PRONY), ("Bartlett", D_BARTLETT), ("Keypon", D_KEYPON), ("MUSIC", D_MUSIC)],
            [25, 45], X_TICKS_D, 461, 288, STYLE_D, (336, -0.5, 625, 17.5, 12.7, 14), 9, 9,
            (4, 15, 22), (429, 273, 22), caption=("c", 216, 39, 22), edge=(-32, -5, 310))

rows = alt.vconcat(
    row(9, 342, pa),
    row(1, 346, pb),
    row(19, 310, pc),
    row(19, 288, pd_),
    spacing=0,
).resolve_scale(**INDEP).resolve_legend(
    color="independent", strokeDash="independent", strokeWidth="independent"
).properties(padding={"left": 0, "top": -4, "right": 0, "bottom": 0})

chart = rows.configure_view(stroke="transparent").configure_axis(
    gridColor="#8c8c8c", gridWidth=1.2, gridOpacity=1, domain=False, ticks=False,
    labelFont=SANS, labelFontSize=11.5, labelColor="#222222",
)

chart.save("out.html", embed_options={"renderer": "svg", "actions": False})
